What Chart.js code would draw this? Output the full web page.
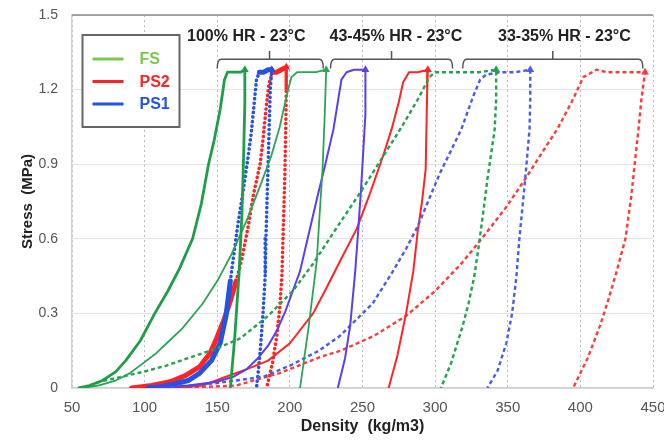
<!DOCTYPE html>
<html>
<head>
<meta charset="utf-8">
<title>Stress vs Density</title>
<script src="https://cdn.jsdelivr.net/npm/chart.js@4"></script>
<style>
  body { margin: 0; background: #fff; }
  canvas { display: block; }
</style>
</head>
<body>
<canvas id="chart" width="664" height="440"></canvas>
<script>
"use strict";

// compression curves: [density kg/m3, stress MPa], loading then unloading
const fs100 = [[54,0],[62,0.01],[71,0.03],[80,0.065],[87,0.11],[97,0.19],[107,0.3],[116,0.39],[124,0.48],[133,0.6],[139,0.74],[144,0.9],[148,1.0],[152,1.12],[155,1.24],[157,1.27],[162,1.27],[166,1.27],[169,1.28],[169,1.15],[168,0.9],[167,0.7],[165,0.46],[162,0.2],[159,0]];
const ps2_100 = [[91,0],[105,0.01],[117.5,0.025],[128,0.05],[138,0.086],[145,0.14],[149.6,0.2],[155,0.28],[159,0.35],[163,0.43],[167,0.52],[171,0.64],[175,0.78],[179.5,0.9],[181.5,1.0],[183.5,1.12],[185.5,1.22],[188,1.27],[191,1.27],[194,1.28],[197.5,1.29],[197.5,1.2],[197,1.0],[196.5,0.85],[195.5,0.65],[194.5,0.45],[193,0.32],[191,0.21],[188,0.1],[184,0]];
const ps1_100 = [[102,0],[111,0.005],[120,0.015],[130,0.03],[138,0.06],[146,0.11],[152,0.18],[156,0.29],[159,0.43],[161,0.52],[164,0.65],[168,0.8],[171,0.92],[173.5,1.03],[175.5,1.15],[177,1.24],[179,1.27],[182,1.27],[185,1.28],[187.5,1.28],[186.5,1.2],[185.5,1.0],[184.5,0.8],[183.5,0.6],[183,0.45],[181.5,0.3],[180,0.18],[178.5,0.08],[177,0]];

const fs43 = [[57,0],[68,0.01],[80,0.03],[90,0.06],[99,0.1],[108,0.14],[117,0.19],[126,0.24],[140,0.34],[150,0.43],[160,0.54],[170,0.67],[180,0.82],[187,0.93],[193,1.05],[198,1.18],[201,1.25],[205,1.27],[212,1.27],[218,1.27],[225,1.28],[224,1.1],[222.5,0.88],[220.5,0.7],[218.5,0.51],[213,0.25],[207,0]];
const ps2_43 = [[120,0],[140,0.01],[156,0.045],[170,0.075],[185,0.11],[200,0.18],[216,0.3],[225,0.4],[234.5,0.51],[246,0.64],[255,0.78],[264,0.93],[270,1.04],[275,1.15],[278,1.23],[282,1.27],[288,1.27],[295,1.28],[294.5,1.18],[294,1.04],[293.5,0.88],[291,0.75],[288,0.63],[285,0.47],[280,0.3],[274,0.13],[268,0]];
const ps1_43 = [[108,0],[130,0.01],[150,0.025],[161,0.045],[170,0.075],[178,0.12],[185,0.17],[191,0.23],[197,0.31],[202,0.39],[207,0.47],[213,0.62],[219,0.77],[224,0.89],[230,1.04],[233,1.15],[235.5,1.24],[239,1.27],[244,1.28],[252,1.28],[252,1.1],[250.5,0.95],[249,0.8],[247,0.63],[245,0.47],[241.5,0.25],[238,0.12],[233,0]];

const fs33 = [[58,0],[69,0.025],[84,0.045],[99,0.065],[115,0.09],[130,0.12],[150,0.16],[166,0.2],[185,0.29],[202,0.39],[216,0.5],[234,0.66],[250,0.8],[264,0.93],[277,1.05],[289,1.17],[296,1.25],[300,1.27],[315,1.27],[330,1.27],[342,1.28],[342,1.16],[341,1.04],[336,0.84],[333,0.7],[330,0.57],[327,0.45],[323,0.34],[319,0.25],[311,0.1],[304,0]];
const ps1_33 = [[115,0],[124,0.005],[150,0.02],[181.5,0.045],[200,0.09],[220,0.15],[234.5,0.21],[257,0.34],[271,0.47],[280,0.56],[288,0.65],[303,0.86],[318,1.04],[326,1.17],[331,1.24],[335,1.26],[345,1.27],[355,1.27],[365.5,1.28],[365.5,1.16],[365,1.04],[362,0.84],[358,0.6],[356,0.45],[353,0.3],[349,0.18],[343,0.07],[336,0]];
const ps2_33 = [[125,0],[163,0.01],[193,0.06],[221,0.125],[235,0.15],[258,0.21],[280,0.29],[300,0.39],[318,0.5],[332,0.6],[348,0.72],[362,0.84],[374,0.95],[384,1.04],[394,1.15],[402,1.25],[411,1.28],[418,1.27],[430,1.27],[444.5,1.27],[442,1.16],[440,1.04],[435,0.77],[431,0.6],[425,0.47],[419,0.35],[413.5,0.25],[405,0.12],[395,0]];

const legendNames = ["FS", "PS2", "PS1"];
const groupNames = ["100% HR - 23°C", "43-45% HR - 23°C", "33-35% HR - 23°C"];

const GREEN = "#1f9e48";
const RED = "#ff2424";
const BLUE = "#2352e4";
const VIOLET = "#5a3ef2";

// brackets above each humidity group, in axis units
const brackets = [
    { from: 150, to: 223, mid: 186, textX: 170 },
    { from: 228, to: 312, mid: 270, textX: 273 },
    { from: 319, to: 443, mid: 381, textX: 389 }
];

function curve(label, pts, color, width, kind) {
    let data = pts.map(p => ({ x: p[0], y: p[1] }));
    // arrow marker sits at the end of the plateau (first point with the largest density)
    let endIdx = 0;
    pts.forEach((p, i) => { if (p[0] > pts[endIdx][0]) endIdx = i; });
    let ds = {
        label: label,
        data: data,
        showLine: true,
        borderColor: color,
        backgroundColor: color,
        borderWidth: width,
        tension: 0,
        pointStyle: "triangle",
        pointRadius: ctx => ctx.dataIndex === endIdx ? 4.5 : 0,
        pointHoverRadius: 0,
        pointBorderWidth: 0,
        borderJoinStyle: "round"
    };
    if (kind === "dashed") {
        ds.borderDash = [4, 3];
    }
    if (kind === "dotted") {
        // dense loading part looks solid, the rest is a row of dots
        let dense = c => c.p1.parsed.x > c.p0.parsed.x &&
            (c.p1.parsed.y < 0.5 || c.p0.parsed.y > 1.24);
        ds.borderCapStyle = "round";
        ds.segment = {
            borderDash: c => dense(c) ? [] : [0.1, 4.5],
            borderWidth: c => dense(c) ? 5 : 3.6
        };
    }
    return ds;
}

let overlay = {
    id: "overlay",
    afterDraw(chart) {
        let ctx = chart.ctx;
        let a = chart.chartArea;
        let x = chart.scales.x;
        let y = chart.scales.y;
        ctx.save();

        // frame line on top of the plot
        ctx.strokeStyle = "#8a8a8a";
        ctx.lineWidth = 1.5;
        ctx.beginPath();
        ctx.moveTo(a.left, a.top);
        ctx.lineTo(a.right, a.top);
        ctx.stroke();

        // group brackets and captions
        ctx.strokeStyle = "#555";
        ctx.lineWidth = 1.5;
        ctx.fillStyle = "#222";
        ctx.font = "bold 16px 'Liberation Sans', Arial, sans-serif";
        ctx.textAlign = "center";
        ctx.textBaseline = "middle";
        brackets.forEach((b, i) => {
            let x1 = x.getPixelForValue(b.from);
            let x2 = x.getPixelForValue(b.to);
            let xm = x.getPixelForValue(b.mid);
            let yb = y.getPixelForValue(1.322);
            let ye = y.getPixelForValue(1.285);
            let yt = y.getPixelForValue(1.355);
            ctx.beginPath();
            ctx.moveTo(x1, ye);
            ctx.quadraticCurveTo(x1, yb, x1 + 4, yb);
            ctx.lineTo(x2 - 4, yb);
            ctx.quadraticCurveTo(x2, yb, x2, ye);
            ctx.moveTo(xm, yb);
            ctx.lineTo(xm, yt);
            ctx.stroke();
            ctx.fillText(groupNames[i], x.getPixelForValue(b.textX), y.getPixelForValue(1.412));
        });

        // legend box
        let lx = a.left + 10.5;
        let ly = a.top + 20;
        ctx.fillStyle = "#fff";
        ctx.fillRect(lx, ly, 97, 92);
        ctx.strokeStyle = "#666";
        ctx.lineWidth = 2;
        ctx.strokeRect(lx, ly, 97, 92);
        let legendColors = ["#7cc84e", RED, BLUE];
        ctx.textAlign = "left";
        legendNames.forEach((name, i) => {
            let ry = ly + 24 + i * 22.5;
            ctx.strokeStyle = legendColors[i];
            ctx.lineWidth = 3;
            ctx.beginPath();
            ctx.moveTo(lx + 10, ry);
            ctx.lineTo(lx + 41, ry);
            ctx.stroke();
            ctx.fillStyle = legendColors[i];
            ctx.fillText(name, lx + 57, ry + 1);
        });
        ctx.restore();
    }
};

let chart = new Chart(document.getElementById("chart"), {
    type: "scatter",
    data: {
        datasets: [
            curve("FS 100%", fs100, GREEN, 2.8, "solid"),
            curve("FS 43-45%", fs43, "#2aa553", 1.8, "solid"),
            curve("FS 33-35%", fs33, "#24a24e", 2.4, "dashed"),
            curve("PS1 43-45%", ps1_43, VIOLET, 2, "solid"),
            curve("PS1 33-35%", ps1_33, "#4a5cf0", 2.4, "dashed"),
            curve("PS2 43-45%", ps2_43, RED, 2, "solid"),
            curve("PS2 33-35%", ps2_33, "#ff3a3a", 2.4, "dashed"),
            curve("PS1 100%", ps1_100, BLUE, 3.6, "dotted"),
            curve("PS2 100%", ps2_100, RED, 3.6, "dotted")
        ]
    },
    options: {
        responsive: false,
        animation: false,
        events: [],
        layout: { padding: { top: 15, right: 11, left: 0, bottom: 0 } },
        plugins: {
            legend: { display: false },
            tooltip: { enabled: false }
        },
        scales: {
            x: {
                type: "linear",
                min: 50,
                max: 450,
                afterFit: s => {
                    s.height = 52;
                    s.paddingLeft = 0;
                    s.paddingRight = 0;
                },
                ticks: {
                    stepSize: 50,
                    padding: 11,
                    maxRotation: 0,
                    color: "#555",
                    font: { family: "'Liberation Sans', Arial, sans-serif", size: 15 }
                },
                grid: { color: "#bdbdbd", drawTicks: false },
                border: { color: "#cfcfcf", width: 1.5, dash: [2, 3] },
                title: {
                    display: true,
                    text: "Density  (kg/m3)",
                    color: "#222",
                    padding: { top: 0, bottom: 4 },
                    font: { family: "'Liberation Sans', Arial, sans-serif", size: 16, weight: "bold" }
                }
            },
            y: {
                type: "linear",
                min: 0,
                max: 1.5,
                afterFit: s => {
                    s.width = 72;
                    s.paddingTop = 0;
                    s.paddingBottom = 0;
                },
                ticks: {
                    stepSize: 0.3,
                    padding: 14,
                    color: "#555",
                    font: { family: "'Liberation Sans', Arial, sans-serif", size: 14 },
                    callback: v => String(Number(v.toFixed(1)))
                },
                grid: { color: "#e4e4e4", drawTicks: false },
                border: { color: "#cfcfcf", width: 1.5 },
                title: {
                    display: true,
                    text: "Stress  (MPa)",
                    color: "#222",
                    padding: { top: 19, bottom: 0 },
                    font: { family: "'Liberation Sans', Arial, sans-serif", size: 15, weight: "bold" }
                }
            }
        }
    },
    plugins: [overlay]
});
</script>
</body>
</html>
